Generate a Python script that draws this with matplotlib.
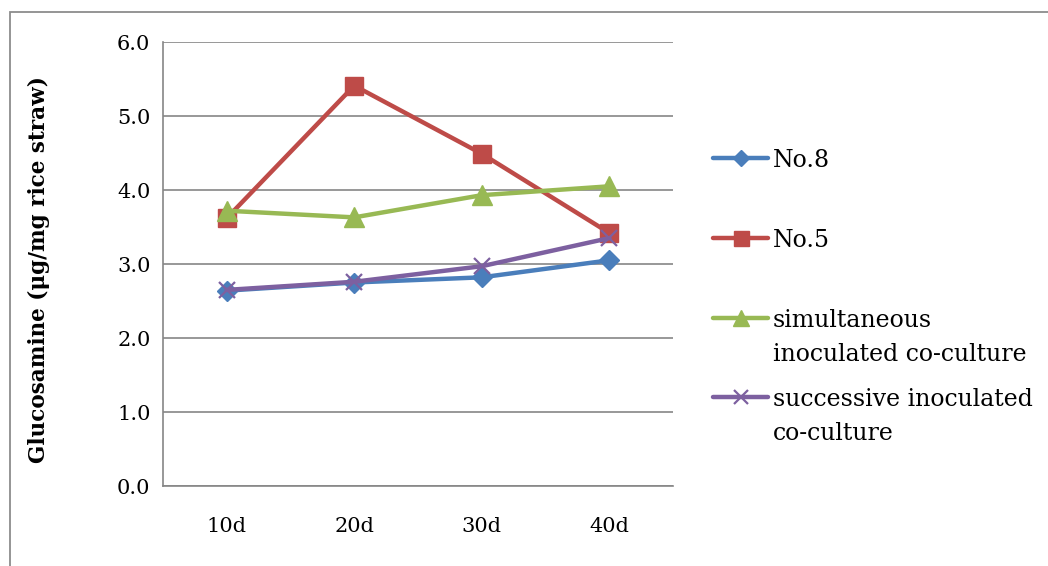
import matplotlib

matplotlib.use("Agg")
import matplotlib.pyplot as plt
from matplotlib.lines import Line2D
from matplotlib.patches import Rectangle

# sampling days and glucosamine content (ug/mg rice straw)
days = ["10d", "20d", "30d", "40d"]
no8 = [2.64, 2.75, 2.82, 3.05]
no5 = [3.62, 5.41, 4.49, 3.42]
simultaneous = [3.72, 3.63, 3.93, 4.05]
successive = [2.65, 2.76, 2.97, 3.35]

SERIES = [
    (["No.8"], no8, "#4a7ebb", "D", 10.5),
    (["No.5"], no5, "#be4b48", "s", 13.5),
    (["simultaneous", "inoculated co-culture"], simultaneous, "#98b954", "^", 14),
    (["successive inoculated", "co-culture"], successive, "#7d60a0", "x", 12),
]

FONT = "DejaVu Serif"
GRID = "#868686"

W, H = 1048, 566
fig = plt.figure(figsize=(W / 100, H / 100), dpi=100)
fig.patch.set_facecolor("white")

# chart frame (runs off the right and bottom edges)
fig.add_artist(Rectangle((10 / W, -0.1), 1.2, 1 - 12 / H + 0.1, transform=fig.transFigure,
                         facecolor="none", edgecolor="#8c8c8c", linewidth=1.3))

ax = fig.add_axes([163 / W, 1 - 486 / H, 510 / W, 444 / H])
x = [i + 0.5 for i in range(len(days))]

for name, vals, color, mk, ms in SERIES:
    ax.plot(x, vals, color=color, linewidth=3.2, marker=mk, markersize=ms,
            markerfacecolor=color, markeredgecolor=color,
            markeredgewidth=1.6 if mk == "x" else 1.0, zorder=3)

ax.set_xlim(0, 4)
ax.set_ylim(0, 6)
ax.set_yticks([0, 1, 2, 3, 4, 5, 6])
ax.set_yticklabels([f"{v:.1f}" for v in range(7)])
ax.set_xticks(x)
ax.set_xticklabels(days)
ax.tick_params(axis="both", length=0, labelsize=15, labelcolor="black")
ax.tick_params(axis="y", pad=9)
ax.tick_params(axis="x", pad=22)
for lab in ax.get_xticklabels() + ax.get_yticklabels():
    lab.set_fontfamily(FONT)

ax.yaxis.grid(True, color=GRID, linewidth=1.2)
ax.set_axisbelow(True)
for side in ("top", "right"):
    ax.spines[side].set_visible(False)
for side in ("left", "bottom"):
    ax.spines[side].set_color(GRID)
    ax.spines[side].set_linewidth(1.2)

fig.text(39 / W, 1 - 270 / H, "Glucosamine (\u03bcg/mg rice straw)", rotation=90,
         ha="center", va="center", fontsize=15.5, fontweight="semibold", family=FONT)

# legend to the right of the plot, handle aligned with first text line
leg_y = [158, 238, 318, 397]
LINE_GAP = 34
for (lines, vals, color, mk, ms), yy in zip(SERIES, leg_y):
    fy = 1 - yy / H
    fig.add_artist(Line2D([713 / W, 768 / W], [fy, fy], transform=fig.transFigure,
                          color=color, linewidth=3.2, solid_capstyle="round"))
    fig.add_artist(Line2D([740.5 / W], [fy], transform=fig.transFigure, color=color,
                          marker=mk, markersize=ms * 0.8, markerfacecolor=color,
                          markeredgecolor=color,
                          markeredgewidth=1.6 if mk == "x" else 1.0))
    for k, line in enumerate(lines):
        fig.text(773 / W, 1 - (yy + k * LINE_GAP) / H, line, ha="left",
                 va="center_baseline", fontsize=17, family=FONT)

fig.savefig("out.png", dpi=100, facecolor="white")
